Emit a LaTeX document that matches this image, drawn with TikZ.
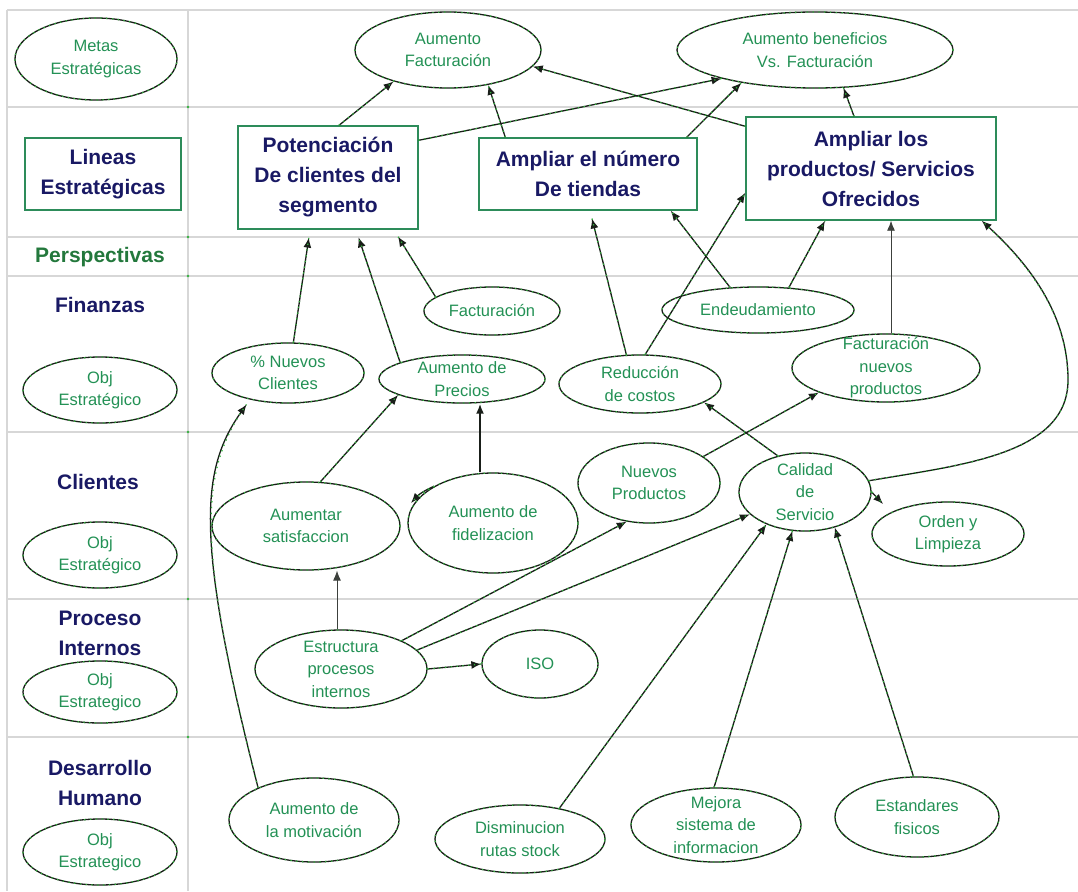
\documentclass[tikz,border=0pt]{standalone}
\usepackage{fontspec}
\setmainfont{Liberation Sans}
\usetikzlibrary{shapes.geometric,arrows.meta,calc}

\definecolor{ink}{RGB}{25,30,25}
\definecolor{speck}{RGB}{50,175,60}
\definecolor{txtgreen}{RGB}{35,145,85}
\definecolor{navy}{RGB}{25,25,100}
\definecolor{boxgreen}{RGB}{45,140,90}
\definecolor{persgreen}{RGB}{35,120,60}
\definecolor{rulegray}{RGB}{215,215,215}

\tikzset{
  rule/.style={draw=rulegray, line width=1.2pt},
  goal/.style={ellipse, draw=ink, line width=1.3pt, inner sep=0pt,
    postaction={draw=speck, dash pattern=on 1.3pt off 4.5pt, line width=1.3pt}},
  goaltext/.style={align=center, text=txtgreen, inner sep=0pt,
    font=\fontsize{16.5}{22.5}\selectfont},
  linebox/.style={rectangle, draw=boxgreen, line width=1.4pt, fill=white,
    align=center, text=navy, inner sep=0pt, font=\bfseries\fontsize{21}{30}\selectfont},
  head/.style={align=center, text=navy, inner sep=0pt,
    font=\bfseries\fontsize{21}{30}\selectfont},
  conn/.style={draw=ink, line width=1.3pt, -{Latex[length=10pt,width=8pt]},
    postaction={draw=speck, -, dash pattern=on 1.3pt off 4.5pt, line width=1.3pt}},
  thinconn/.style={draw=ink!85, line width=0.9pt, -{Latex[length=10pt,width=8pt]}},
  thickconn/.style={draw=ink, line width=2.4pt, -{Latex[length=10pt,width=8pt]}},
}

% ellipse with centred text: name, centre, width, height, text
\newcommand{\goalnode}[5]{%
  \node[goal, minimum width=#3, minimum height=#4,
        label={[goaltext]center:#5}] (#1) at (#2) {};}

\begin{document}
\begin{tikzpicture}[x=1pt,y=-1pt]
\useasboundingbox (0,0) rectangle (1078,891);

% table rules
\draw[rule] (7,10) -- (1078,10);
\draw[rule] (7,10) -- (7,891);
\draw[rule] (188,10) -- (188,891);
\foreach \yy in {107,237,276,432,599,737} {
  \draw[rule] (7,\yy) -- (1078,\yy);
  \fill[speck] (188,\yy) circle (1.3pt);
}

% left column: perspectives
\goalnode{metas}{96,59}{162pt}{82pt}{Metas\\Estratégicas}
\node[linebox, minimum width=156pt, minimum height=72pt] (lineas) at (103,174) {Lineas\\Estratégicas};
\node[head, text=persgreen] (persp) at (100,257) {Perspectivas};
\node[head] (finan) at (100,305) {Finanzas};
\goalnode{obja}{100,390}{154pt}{66pt}{Obj\\Estratégico}
\node[head] (clien) at (98,482) {Clientes};
\goalnode{objb}{100,555}{154pt}{66pt}{Obj\\Estratégico}
\node[head] (proc) at (100,633) {Proceso\\Internos};
\goalnode{objc}{100,692}{154pt}{62pt}{Obj\\Estrategico}
\node[head] (desa) at (100,783) {Desarrollo\\Humano};
\goalnode{objd}{100,852}{154pt}{66pt}{Obj\\Estrategico}

% goals
\goalnode{aumfact}{448,50}{186pt}{76pt}{Aumento\\Facturación}
\goalnode{aumben}{815,50}{276pt}{76pt}{Aumento beneficios\\Vs. Facturación}

% strategic lines
\node[linebox, minimum width=180pt, minimum height=103pt] (pot) at (328,177.5) {Potenciación\\De clientes del\\segmento};
\node[linebox, minimum width=218pt, minimum height=72pt] (ampnum) at (588,174) {Ampliar el número\\De tiendas};
\node[linebox, minimum width=250pt, minimum height=103pt] (ampprod) at (871,168.5) {Ampliar los\\productos/ Servicios\\Ofrecidos};

% finance
\goalnode{fact}{492,311}{136pt}{48pt}{Facturación}
\goalnode{endeud}{758,310}{192pt}{46pt}{Endeudamiento}
\goalnode{pnuevos}{288,373}{152pt}{60pt}{\%~Nuevos\\Clientes}
\goalnode{aumprec}{462,379}{166pt}{48pt}{Aumento de\\Precios}
\goalnode{red}{640,384}{162pt}{58pt}{Reducción\\de costos}
\goalnode{factnp}{886,368}{188pt}{68pt}{Facturación\\nuevos\\productos}

% customers
\goalnode{np}{649,483}{142pt}{80pt}{Nuevos\\Productos}
\goalnode{cal}{805,492}{132pt}{78pt}{Calidad\\de\\Servicio}
\goalnode{sat}{306,526}{188pt}{88pt}{Aumentar\\satisfaccion}
\goalnode{fid}{493,523}{170pt}{100pt}{Aumento de\\fidelizacion}
\goalnode{orden}{948,534}{152pt}{64pt}{Orden y\\Limpieza}

% internal processes
\goalnode{estr}{341,669}{172pt}{78pt}{Estructura\\procesos\\internos}
\goalnode{iso}{540,664}{116pt}{68pt}{ISO}

% human development
\goalnode{motiv}{314,820}{170pt}{84pt}{Aumento de\\la motivación}
\goalnode{dism}{520,839}{170pt}{68pt}{Disminucion\\rutas stock}
\goalnode{mejora}{716,825}{170pt}{74pt}{Mejora\\sistema de\\informacion}
\goalnode{estand}{917,817}{164pt}{80pt}{Estandares\\fisicos}

% links to the goals
\draw[conn] ($(pot.north)+(11,0)$) -- (aumfact.210);
\draw[conn] ($(pot.north east)+(0,15)$) -- (aumben.197);
\draw[conn] ($(ampnum.north west)+(27,0)$) -- (aumfact.319);
\draw[conn] ($(ampnum.north east)+(-11,0)$) -- (aumben.204);
\draw[conn] ($(ampprod.north west)+(0,10)$) -- (aumfact.349);
\draw[conn] ($(ampprod.north)+(-17,0)$) -- (aumben.307);

% links to the strategic lines
\draw[conn, shorten >=8pt] (pnuevos.80) -- ($(pot.south)+(-18,0)$);
\draw[conn, shorten >=8pt] (aumprec.165) -- ($(pot.south)+(28,0)$);
\draw[conn, shorten >=8pt] (fact.166) -- ($(pot.south east)+(-25,0)$);
\draw[conn, shorten >=8pt] (red.115) -- ($(ampnum.south)+(2,0)$);
\draw[conn] (red.80) -- ($(ampprod.south west)+(0,-28)$);
\draw[conn] (endeud.141) -- ($(ampnum.south east)+(-27,0)$);
\draw[conn] (endeud.36) -- ($(ampprod.south)+(-46,0)$);
\coordinate (fnptop) at ($(ampprod.south)+(20,0)$);
\draw[thinconn] (factnp.north -| fnptop) -- (fnptop);
\draw[conn] (cal.10) .. controls (960,465) and (1068,455) .. (1068,380)
  .. controls (1068,315) and (1030,265) .. ($(ampprod.south east)+(-15,0)$);

% customer links
\draw[conn] (sat.72) -- (aumprec.194);
\coordinate (fidup) at ($(aumprec.south)+(18,0)$);
\draw[thickconn] (fid.north -| fidup) -- (fidup);
\coordinate (fidtip) at (411,503);
\draw[conn] (fid.148) to[bend right=12] (fidtip);
\draw[conn] (np.26) -- (factnp.200);
\draw[conn] (cal.127) -- (red.344);
\coordinate (ordtip) at (883,504);
\draw[conn] (cal.east) -- (ordtip);

% process links
\coordinate (satbot) at ($(sat.south)+(31,0)$);
\draw[thinconn] (estr.north -| satbot) -- (satbot);
\draw[conn] (estr.25) -- (np.240);
\draw[conn] (estr.14) -- (cal.202);
\draw[conn] (estr.east) -- (iso.west);

% human development links
\draw[conn, shorten >=6pt] (motiv.150) .. controls (195,540) and (200,470) .. (pnuevos.215);
\draw[conn] (dism.38) -- (cal.220);
\draw[conn] (mejora.93) -- (cal.252);
\draw[conn] (estand.95) -- (cal.310);
\end{tikzpicture}
\end{document}
